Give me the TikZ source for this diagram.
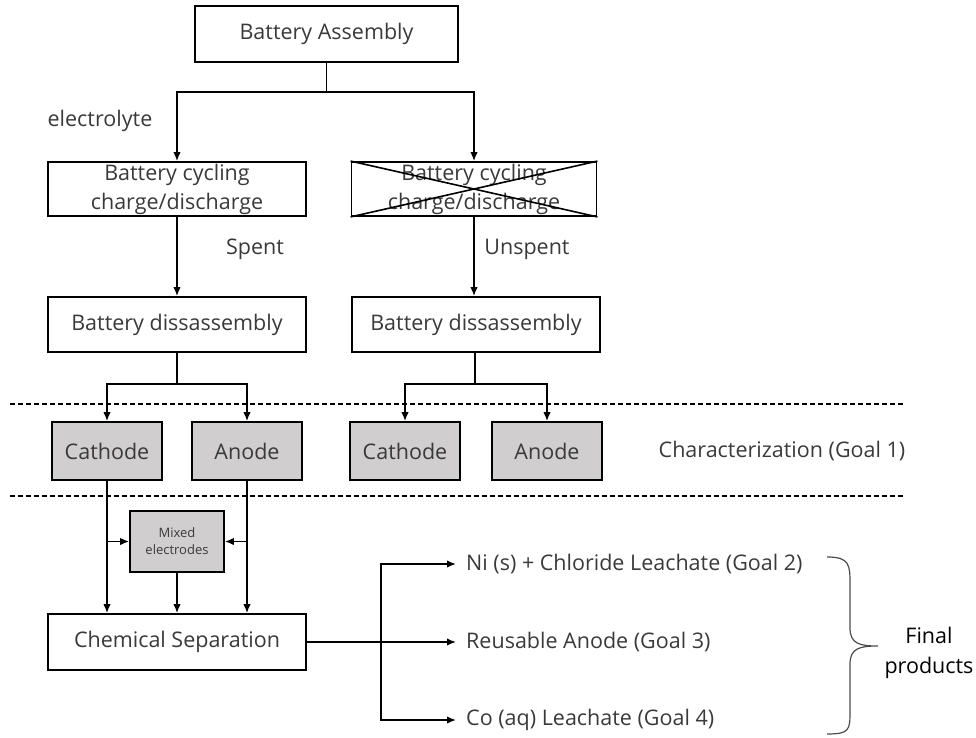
\documentclass[tikz,border=0pt]{standalone}
\usepackage{fontspec}
\setmainfont{Open Sans}
\usetikzlibrary{arrows.meta}
\definecolor{txt}{HTML}{3A3A3A}
\definecolor{boxgray}{HTML}{D0CECE}
\tikzset{
  box/.style={draw=black,line width=1.8pt,fill=white,minimum height=55pt,text=txt,font=\fontsize{21.5}{29}\selectfont,align=center,inner sep=0pt},
  gbox/.style={box,fill=boxgray,minimum width=110pt,minimum height=58pt},
  conn/.style={line width=1.6pt},
  arr/.style={conn,-{Latex[length=9pt,width=7.5pt]}},
  lbl/.style={text=txt,font=\fontsize{21.5}{25}\selectfont,inner sep=0pt},
  sep/.style={line width=1.6pt,dash pattern=on 5pt off 3pt}
}
\begin{document}
\begin{tikzpicture}[x=1pt,y=-1pt]
\useasboundingbox (0,0) rectangle (976,738);
% top
\node[box,minimum width=263pt,minimum height=56pt] (asm) at (326.5,34) {Battery Assembly};
\node[box,minimum width=258pt,minimum height=54pt] (cyc1) at (177,189) {Battery cycling\\charge/discharge};
\node[box,minimum width=245pt,minimum height=54pt] (cyc2) at (474,189) {Battery cycling\\charge/discharge};
\draw[line width=1.6pt] (cyc2.north west) -- (cyc2.south east) (cyc2.south west) -- (cyc2.north east);
\node[box,minimum width=258pt] (dis1) at (177,324.5) {Battery dissassembly};
\node[box,minimum width=248pt] (dis2) at (476,324.5) {Battery dissassembly};
\node[gbox] (cat1) at (107,451) {Cathode};
\node[gbox] (an1) at (247,451) {Anode};
\node[gbox] (cat2) at (405,451) {Cathode};
\node[gbox] (an2) at (547,451) {Anode};
\node[box,fill=boxgray,minimum width=94pt,minimum height=61pt,font=\fontsize{13}{17}\selectfont] (mix) at (177,541.5) {Mixed\\electrodes};
\node[box,minimum width=258pt,minimum height=56pt] (chem) at (177,642) {Chemical Separation};
% labels
\node[lbl] (elec) at (100,121) {electrolyte};
\node[lbl] (spent) at (255,249) {Spent};
\node[lbl] (unspent) at (527,249) {Unspent};
\node[lbl] (charz) at (782,451) {Characterization (Goal 1)};
\node[lbl,anchor=west] (g2) at (466,564) {Ni (s) + Chloride Leachate (Goal 2)};
\node[lbl,anchor=west] (g3) at (466,642) {Reusable Anode (Goal 3)};
\node[lbl,anchor=west] (g4) at (466,720) {Co (aq) Leachate (Goal 4)};
\node[font=\fontsize{21.5}{30}\selectfont,align=center,inner sep=0pt,text=black] (fin) at (929,653) {Final\\products};
% separators
\draw[sep] (10,404) -- (905,404);
\draw[sep] (10,496) -- (905,496);
% connectors
\coordinate (s1) at (326.5,92);
\draw[conn] (asm.south) -- (s1);
\draw[arr] (s1) -| (cyc1.north);
\draw[arr] (s1) -| (cyc2.north);
\draw[arr] (cyc1.south) -- (dis1.north);
\draw[arr] (cyc2.south) -- (cyc2.south|-dis2.north);
\coordinate (s2) at (177,384);
\coordinate (s3) at (475,384);
\draw[conn] (dis1.south) -- (s2);
\draw[arr] (s2) -| (cat1.north);
\draw[arr] (s2) -| (an1.north);
\draw[conn] (dis2.south-|s3) -- (s3);
\draw[arr] (s3) -| (cat2.north);
\draw[arr] (s3) -| (an2.north);
\draw[arr] (cat1.south) -- (cat1.south|-chem.north);
\draw[arr] (an1.south) -- (an1.south|-chem.north);
\draw[arr] (mix.south) -- (chem.north);
\draw[arr] (cat1.south|-mix.west) -- (mix.west);
\draw[arr] (an1.south|-mix.east) -- (mix.east);
\coordinate (j) at (381,642);
\draw[arr,shorten >=10pt] (chem.east) -- (g3.west);
\draw[arr,shorten >=10pt] (j) |- (g2.west);
\draw[arr,shorten >=10pt] (j) |- (g4.west);
% brace
\draw[gray!60!black,line width=1.2pt]
  (827,557) .. controls (850,557) and (850,565) .. (850,585)
  -- (850,628) .. controls (850,644) and (860,646) .. (878,646)
  .. controls (860,646) and (850,648) .. (850,664)
  -- (850,710) .. controls (850,730) and (850,734) .. (827,734);
\end{tikzpicture}
\end{document}
